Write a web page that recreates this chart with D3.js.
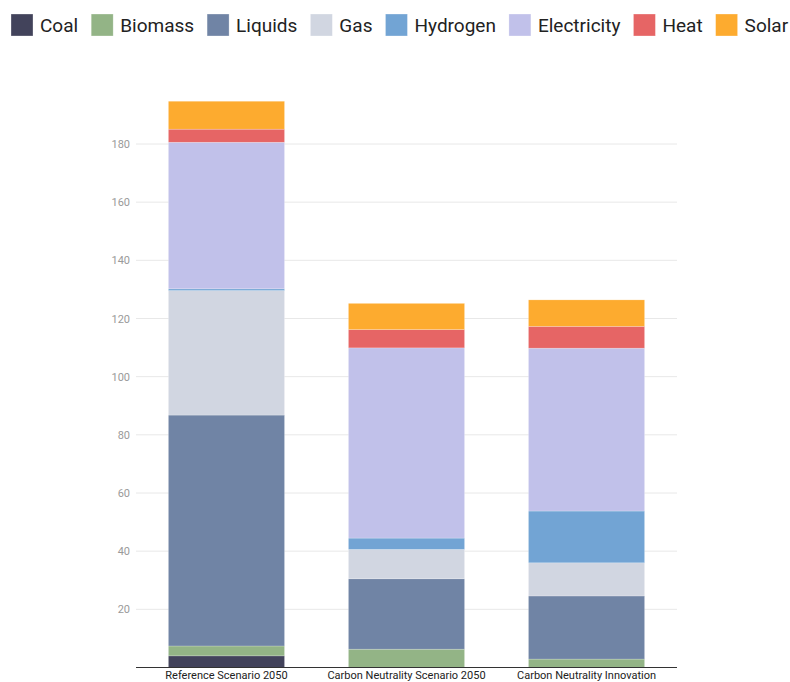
<!DOCTYPE html>
<html>
<head>
<meta charset="utf-8">
<script src="https://cdn.jsdelivr.net/npm/d3@7"></script>
<style>
  html, body { margin: 0; padding: 0; background: #fff; }
  svg { display: block; font-family: Roboto, "Noto Sans", sans-serif; }
</style>
</head>
<body>
<svg id="chart" width="790" height="682"></svg>
<script>
const categories = ["Reference Scenario 2050", "Carbon Neutrality Scenario 2050", "Carbon Neutrality Innovation"];
const seriesNames = ["Coal", "Biomass", "Liquids", "Gas", "Hydrogen", "Electricity", "Heat", "Solar"];
const coal        = [4.0, 0.0, 0.0];
const biomass     = [3.4, 6.3, 2.9];
const liquids     = [79.4, 24.2, 21.7];
const gas         = [42.8, 10.1, 11.4];
const hydrogen    = [0.6, 3.9, 17.8];
const electricity = [50.4, 65.4, 56.0];
const heat        = [4.5, 6.3, 7.5];
const solar       = [9.6, 9.0, 9.1];
const tickValues  = [20, 40, 60, 80, 100, 120, 140, 160, 180];
const colors = ["#42435b", "#93b486", "#7084a5", "#d1d6e1", "#72a4d4", "#c1c1ea", "#e66565", "#fdab2f"];

const seriesValues = [coal, biomass, liquids, gas, hydrogen, electricity, heat, solar];
const table = categories.map((c, i) => {
  const row = { category: c };
  seriesNames.forEach((s, j) => row[s] = seriesValues[j][i]);
  return row;
});

const svg = d3.select("#chart");
const left = 136, right = 677, bottom = 667.5, top144 = 144;

const x = d3.scaleBand().domain(categories).range([left, right]).paddingInner(0.355).paddingOuter(0.18);
const y = d3.scaleLinear().domain([0, 180]).range([bottom, top144]);

// gridlines
svg.append("g").selectAll("line").data(tickValues).join("line")
  .attr("x1", left).attr("x2", right)
  .attr("y1", d => y(d)).attr("y2", d => y(d))
  .attr("stroke", "#e8e8e8").attr("stroke-width", 1);

// y axis labels
const yAxis = d3.axisLeft(y).tickValues(tickValues).tickSize(0).tickPadding(6);
const gy = svg.append("g").attr("transform", `translate(${left},0)`).call(yAxis);
gy.select(".domain").remove();
gy.selectAll("text").attr("fill", "#9a9a9a").style("font-size", "11px").style("font-family", "Roboto, sans-serif");

// stacked bars
const stack = d3.stack().keys(seriesNames);
const stacked = stack(table);
svg.append("g").selectAll("g").data(stacked).join("g")
  .attr("fill", (d, i) => colors[i])
  .selectAll("rect").data(d => d).join("rect")
  .attr("x", d => x(d.data.category))
  .attr("width", x.bandwidth())
  .attr("y", d => y(d[1]))
  .attr("height", d => Math.max(0, y(d[0]) - y(d[1])))
  .attr("stroke", "rgba(255,255,255,0.35)").attr("stroke-width", 0.6);

// x axis
const xAxis = d3.axisBottom(x).tickSize(0).tickPadding(4);
const gx = svg.append("g").attr("transform", `translate(0,${bottom})`).call(xAxis);
gx.select(".domain").attr("stroke", "#333").attr("stroke-width", 1)
  .attr("d", `M${left},0H${right}`);
gx.selectAll("text").attr("fill", "#222").style("font-size", "11px").style("font-family", "Roboto, sans-serif");

// legend
const legend = svg.append("g");
let lx = 11;
seriesNames.forEach((s, i) => {
  const g = legend.append("g");
  g.append("rect").attr("x", lx).attr("y", 14).attr("width", 22).attr("height", 22)
    .attr("fill", colors[i]).attr("stroke", "rgba(255,255,255,0.5)").attr("stroke-width", 0.6);
  const t = g.append("text").attr("x", lx + 29).attr("y", 32)
    .attr("fill", "#222").style("font-size", "19px").style("font-family", "Roboto, sans-serif")
    .text(s);
  const w = t.node().getComputedTextLength();
  lx += 29 + w + 13;
});
</script>
</body>
</html>
